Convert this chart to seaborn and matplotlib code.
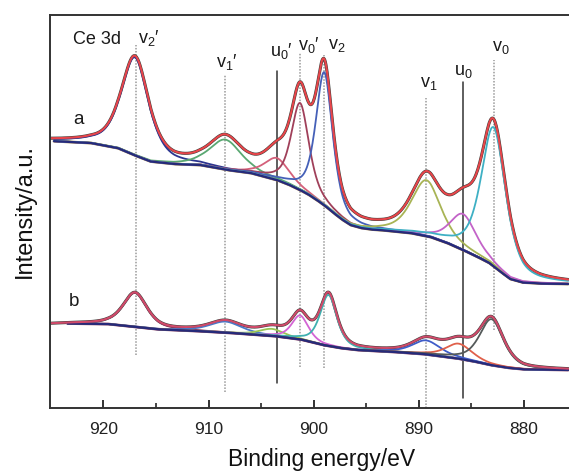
import numpy as np
import pandas as pd
import matplotlib
matplotlib.use("Agg")
import matplotlib.pyplot as plt
import seaborn as sns

# ---------------- data ----------------
peak_names = ["v2'", "v1'", "u0'", "v0'", "v2", "v1", "u0", "v0"]
marker_energy = [916.94, 908.4, 903.5, 901.3, 899.0, 889.3, 885.8, 882.9]

# sample a: fitted components (centre eV, height a.u., FWHM eV)
centers_a = [917.0, 908.4, 903.5, 901.3, 899.0, 889.3, 885.8, 882.9]
heights_a = [98, 30, 22, 87, 133, 56, 36, 139]
fwhm_a = [3.1, 3.6, 2.9, 2.0, 1.9, 3.3, 3.0, 2.8]

# sample b: fitted components
centers_b = [917.0, 908.4, 904.0, 901.3, 898.6, 889.3, 886.2, 883.1]
heights_b = [34, 11, 7, 24, 51, 14, 15, 46]
fwhm_b = [2.7, 3.7, 2.8, 1.9, 1.9, 3.2, 3.0, 2.7]

# Shirley backgrounds (energy knots and intensity)
bg_a_energy = [925.0, 921.2, 918.65, 917.1, 915.5, 913.3, 910.8, 908.2, 906.0,
               903.5, 902.4, 901.3, 900.5, 899.7, 898.9, 898.1, 897.3, 896.5,
               895.5, 894.5, 893.7, 890.8, 888.9, 887.3, 885.8, 884.5, 883.3,
               882.2, 881.3, 880.1, 878.5, 875.7, 873.3]
bg_a_value = [267, 265, 260, 253, 246.5, 244, 243, 238, 235,
              228, 223.5, 218, 213.5, 208, 202, 195, 188.5, 183,
              180, 178.5, 178, 175, 171, 165, 158, 151.5, 145,
              136, 129, 125.5, 124.5, 124, 124]
bg_b_energy = [925.0, 923.4, 919.6, 917.1, 914.8, 911.7, 908.2, 903.8, 901.3,
               899.1, 897.5, 895.9, 892.7, 889.6, 886.4, 884.8, 883.2, 881.6,
               880.1, 875.7, 873.3]
bg_b_value = [84, 84.5, 84, 81.3, 78.7, 77.3, 75.3, 72, 68.7,
              63, 60, 58, 56.3, 54, 49.7, 46.7, 43, 40.3,
              38.7, 38, 38]

lorentz_fraction = 0.6

comp_colors_a = ["#2c3590", "#5aa872", "#d4607a", "#a0405a", "#4560b8",
                 "#a8b455", "#c363c8", "#3eb0c4"]
comp_colors_b = ["#8a3a5a", "#4a78c8", "#98c454", "#d364d4", "#3fb0b0",
                 "#3f5cc8", "#e0604a", "#555a5a"]

# ---------------- style ----------------
sns.set_theme(style="ticks")
plt.rcParams["font.family"] = ["Liberation Sans", "DejaVu Sans"]
plt.rcParams["mathtext.fontset"] = "custom"
plt.rcParams["mathtext.rm"] = "Liberation Sans"
plt.rcParams["mathtext.it"] = "Liberation Sans"

fig = plt.figure(figsize=(5.69, 4.72), dpi=100)
fig.patch.set_facecolor("white")
ax = fig.add_axes([50 / 569, (472 - 408) / 472, 544 / 569, 393 / 472])
ax.set_facecolor("white")


def gl(x, c, h, w):
    hw = w / 2.0
    d = (x - c) / hw
    return h * (lorentz_fraction / (1 + d ** 2)
                + (1 - lorentz_fraction) * np.exp(-np.log(2) * d ** 2))


def draw_sample(centers, heights, fwhm, bg_e, bg_v, colors, env_color,
                bg_under, fit_start, raw_start):
    grid = np.linspace(fit_start, 875.8, 900)
    raw_grid = np.linspace(raw_start, 875.8, 900)
    bg = np.interp(grid, bg_e[::-1], bg_v[::-1])
    raw_bg = np.interp(raw_grid, bg_e[::-1], bg_v[::-1])
    comps = [gl(grid, c, h, w) for c, h, w in zip(centers, heights, fwhm)]
    raw = raw_bg + np.sum([gl(raw_grid, c, h, w)
                           for c, h, w in zip(centers, heights, fwhm)], axis=0)
    sns.lineplot(x=raw_grid, y=raw, ax=ax, color="#3a3f3a", lw=2.2,
                 sort=False, estimator=None)
    sns.lineplot(x=grid, y=bg, ax=ax, color=bg_under, lw=2.0, sort=False,
                 estimator=None)
    for comp, col in zip(comps, colors):
        sns.lineplot(x=grid, y=bg + comp, ax=ax, color=col, lw=1.3,
                     sort=False, estimator=None)
    sns.lineplot(x=grid, y=bg, ax=ax, color="#262a7a", lw=1.6, sort=False,
                 estimator=None)
    sns.lineplot(x=raw_grid, y=raw, ax=ax, color=env_color, lw=1.5,
                 sort=False, estimator=None)


draw_sample(centers_a, heights_a, fwhm_a, bg_a_energy, bg_a_value,
            comp_colors_a, "#e8454a", "#9a7a45", 924.7, 925.0)
draw_sample(centers_b, heights_b, fwhm_b, bg_b_energy, bg_b_value,
            comp_colors_b, "#d04a6a", "#8a3a5a", 923.4, 925.0)

# marker lines (y extent in axis data units)
line_top = [363, 333, 337, 355, 353, 310, 326, 348]
line_bottom = [53, 16, 25, 41, 40, 0, 10, 78]
for name, e, t, b in zip(peak_names, marker_energy, line_top, line_bottom):
    if name.startswith("u"):
        ax.plot([e, e], [b, t], color="#333333", lw=1.1, zorder=1)
    else:
        ax.plot([e, e], [b, t], color="#9a9a9a", lw=1.1, ls=(0, (1, 1)),
                zorder=1)

# labels
label_text = [r"$\mathregular{v_2}$′", r"$\mathregular{v_1}$′",
              r"$\mathregular{u_0}$′", r"$\mathregular{v_0}$′",
              r"$\mathregular{v_2}$", r"$\mathregular{v_1}$",
              r"$\mathregular{u_0}$", r"$\mathregular{v_0}$"]
label_x = [916.75, 909.25, 904.12, 901.46, 898.61, 889.87, 886.65, 883.04]
label_y = [370, 346, 357, 363, 362, 325, 336, 360]
for t, x, y in zip(label_text, label_x, label_y):
    ax.text(x, y, t, fontsize=13, ha="left", va="center", color="#1a1a1a",
            zorder=5)

ax.text(922.85, 368, "Ce 3d", fontsize=13, ha="left", va="center",
        color="#1a1a1a")
ax.text(922.9, 288, "a", fontsize=13.5, ha="left", va="center",
        color="#1a1a1a")
ax.text(923.3, 106, "b", fontsize=13.5, ha="left", va="center",
        color="#1a1a1a")

ax.set_xlim(925.08, 873.35)
ax.set_ylim(0, 393)
ax.set_xticks([920, 910, 900, 890, 880])
ax.set_xticks([915, 905, 895, 885, 875], minor=True)
ax.set_yticks([])
ax.tick_params(axis="x", which="major", direction="in", length=6, width=1.3,
               labelsize=12.5, pad=10, colors="#222222")
ax.tick_params(axis="x", which="minor", direction="in", length=3.5, width=1.2)
for s in ax.spines.values():
    s.set_color("#333333")
    s.set_linewidth(1.4)
ax.set_xlabel("Binding energy/eV", fontsize=16.5, labelpad=8, color="#111111")
ax.set_ylabel("Intensity/a.u.", fontsize=17, labelpad=10, color="#111111")

fig.savefig("out.png", dpi=100, facecolor="white")
